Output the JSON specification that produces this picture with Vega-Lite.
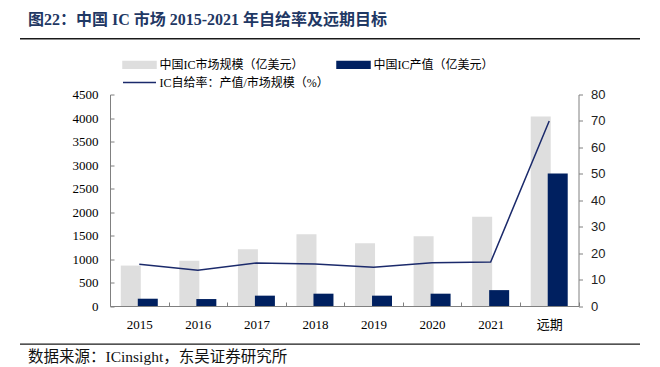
{
  "$schema": "https://vega.github.io/schema/vega-lite/v6.json",
  "padding": {"left": 20, "right": 20, "top": 12, "bottom": 2},
  "spacing": 48.5,
  "config": {
    "view": {"stroke": null},
    "font": "Liberation Serif, Noto Sans CJK SC"
  },
  "datasets": {
    "ic": [
      {"year": "2015", "market": 860, "output": 155, "rate": 15.8},
      {"year": "2016", "market": 965, "output": 148, "rate": 13.5},
      {"year": "2017", "market": 1205, "output": 220, "rate": 16.3},
      {"year": "2018", "market": 1525, "output": 262, "rate": 15.9},
      {"year": "2019", "market": 1335, "output": 220, "rate": 14.7},
      {"year": "2020", "market": 1485, "output": 262, "rate": 16.4},
      {"year": "2021", "market": 1900, "output": 338, "rate": 16.6},
      {"year": "远期", "market": 4030, "output": 2820, "rate": 70}
    ]
  },
  "vconcat": [
    {
      "width": 620,
      "height": 1.5,
      "view": {"fill": "#1a1a1a", "stroke": null},
      "title": {
        "text": "图22：中国 IC 市场 2015-2021 年自给率及远期目标",
        "anchor": "start",
        "dx": 8,
        "offset": 10,
        "font": "Liberation Serif, Noto Sans CJK SC",
        "fontSize": 16,
        "fontWeight": "bold",
        "color": "#1f3864"
      },
      "data": {"values": []},
      "mark": {"type": "point", "opacity": 0}
    },
    {
      "spacing": 12,
      "vconcat": [
        {
          "bounds": "flush",
          "spacing": 0,
          "hconcat": [
            {
              "width": 90,
              "height": 211.5,
              "data": {"values": []},
              "mark": {"type": "point", "opacity": 0}
            },
            {
              "width": 468.5,
              "height": 211.5,
              "data": {"name": "ic"},
              "encoding": {
                "x": {
                  "field": "year",
                  "type": "ordinal",
                  "sort": null,
                  "title": null,
                  "scale": {"paddingInner": 0, "paddingOuter": 0},
                  "axis": {
                    "labelAngle": 0,
                    "labelFont": "Liberation Serif, Noto Sans CJK SC",
                    "labelFontSize": 13,
                    "labelColor": "#000",
                    "domainColor": "#808080",
                    "tickColor": "#808080",
                    "tickBand": "extent",
                    "tickSize": -4,
                    "labelPadding": 16
                  }
                }
              },
              "layer": [
                {
                  "layer": [
                    {
                      "mark": {"type": "bar", "width": 20, "xOffset": -8.5},
                      "encoding": {
                        "y": {
                          "field": "market",
                          "type": "quantitative",
                          "title": null,
                          "scale": {"domain": [0, 4500]},
                          "axis": {
                            "values": [0, 500, 1000, 1500, 2000, 2500, 3000, 3500, 4000, 4500],
                            "format": "d",
                            "labelOverlap": false,
                            "grid": false,
                            "labelFont": "Liberation Serif",
                            "labelFontSize": 13,
                            "labelColor": "#000",
                            "domainColor": "#808080",
                            "tickColor": "#808080",
                            "tickSize": -4,
                            "labelPadding": 16
                          }
                        },
                        "color": {
                          "datum": "中国IC市场规模（亿美元）",
                          "type": "nominal",
                          "scale": {
                            "domain": ["中国IC市场规模（亿美元）", "中国IC产值（亿美元）", "IC自给率：产值/市场规模（%）"],
                            "range": ["#dedede", "#002060", "#1b2a6b"]
                          },
                          "legend": {
                            "title": null,
                            "orient": "none",
                            "direction": "horizontal",
                            "legendX": 102,
                            "legendY": 20.5,
                            "columns": 2,
                            "columnPadding": 5,
                            "rowPadding": 5,
                            "symbolSize": 100,
                            "symbolOffset": 11.5,
                            "labelOffset": 14,
                            "labelLimit": 400,
                            "labelFont": "Liberation Serif, Noto Sans CJK SC",
                            "labelFontSize": 12,
                            "labelColor": "#000",
                            "encode": {
                              "symbols": {
                                "update": {
                                  "shape": {"signal": "datum.value === 'IC自给率：产值/市场规模（%）' ? 'M-3.3,0H3.3' : 'M-3.3,-0.66H3.3V0.66H-3.3Z'"},
                                  "fill": {"signal": "datum.value === 'IC自给率：产值/市场规模（%）' ? 'transparent' : (datum.value === '中国IC市场规模（亿美元）' ? '#dedede' : '#002060')"},
                                  "stroke": {"signal": "datum.value === 'IC自给率：产值/市场规模（%）' ? '#1b2a6b' : 'transparent'"},
                                  "strokeWidth": {"value": 1.5},
                                  "opacity": {"value": 1}
                                }
                              }
                            }
                          }
                        }
                      }
                    },
                    {
                      "mark": {"type": "bar", "width": 20, "xOffset": 8.5},
                      "encoding": {
                        "y": {
                          "field": "output",
                          "type": "quantitative",
                          "title": null,
                          "axis": {
                            "values": [0, 500, 1000, 1500, 2000, 2500, 3000, 3500, 4000, 4500],
                            "format": "d",
                            "labelOverlap": false,
                            "grid": false,
                            "labelFont": "Liberation Serif",
                            "labelFontSize": 13,
                            "labelColor": "#000",
                            "domainColor": "#808080",
                            "tickColor": "#808080",
                            "tickSize": -4,
                            "labelPadding": 16
                          }
                        },
                        "color": {"datum": "中国IC产值（亿美元）", "type": "nominal"}
                      }
                    }
                  ]
                },
                {
                  "mark": {"type": "line", "strokeWidth": 1.5},
                  "encoding": {
                    "y": {
                      "field": "rate",
                      "type": "quantitative",
                      "title": null,
                      "scale": {"domain": [0, 80]},
                      "axis": {
                        "orient": "right",
                        "values": [0, 10, 20, 30, 40, 50, 60, 70, 80],
                        "labelOverlap": false,
                        "grid": false,
                        "labelFont": "Liberation Sans",
                        "labelFontSize": 13,
                        "labelColor": "#222",
                        "domainColor": "#808080",
                        "tickColor": "#808080",
                        "tickSize": 4,
                        "labelPadding": 8
                      }
                    },
                    "color": {"datum": "IC自给率：产值/市场规模（%）", "type": "nominal"}
                  }
                }
              ],
              "resolve": {"scale": {"y": "independent"}}
            }
          ]
        },
        {
          "width": 620,
          "height": 1.2,
          "view": {"fill": "#1a1a1a", "stroke": null},
          "title": {
            "text": "数据来源：ICinsight，东吴证券研究所",
            "orient": "bottom",
            "anchor": "start",
            "dx": 8,
            "offset": 5,
            "font": "Liberation Serif, Noto Sans CJK SC",
            "fontSize": 15.5,
            "fontWeight": "normal",
            "color": "#111"
          },
          "data": {"values": []},
          "mark": {"type": "point", "opacity": 0}
        }
      ]
    }
  ]
}
